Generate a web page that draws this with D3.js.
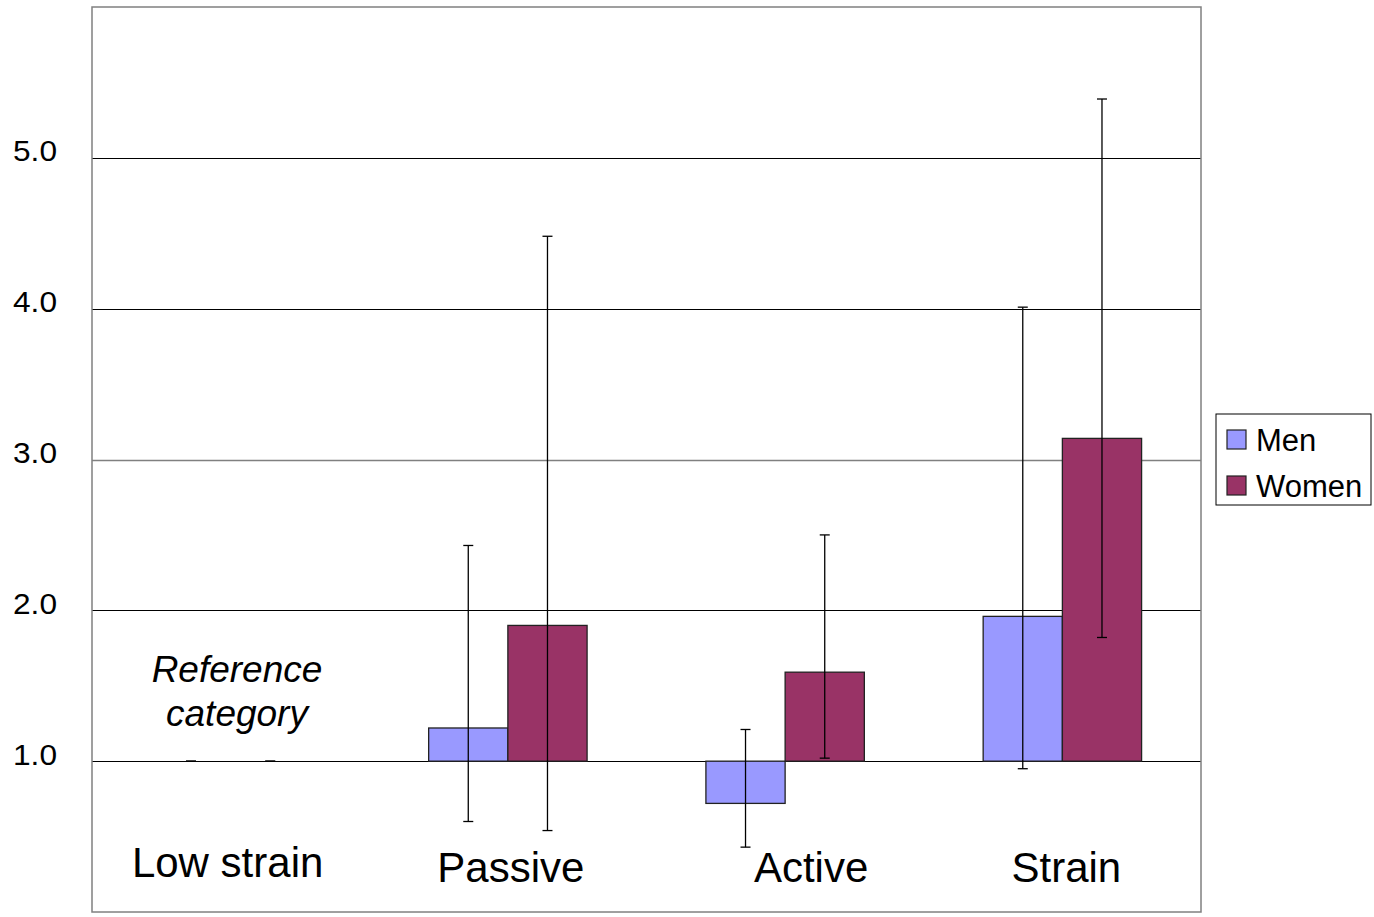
<!DOCTYPE html>
<html>
<head>
<meta charset="utf-8">
<script src="https://cdn.jsdelivr.net/npm/d3@7"></script>
<style>
  html, body { margin: 0; padding: 0; background: #fff; }
  svg { display: block; font-family: Arial, "Liberation Sans", sans-serif; }
</style>
</head>
<body>
<svg id="chart" width="1374" height="917"></svg>
<script>
// ---- data ----
const categories = ["Low strain", "Passive", "Active", "Strain"];
const series = ["Men", "Women"];
const menValues   = [1.00, 1.22, 0.72, 1.96];
const womenValues = [1.00, 1.90, 1.59, 3.14];
const menLower    = [1.00, 0.60, 0.43, 0.95];
const menUpper    = [1.00, 2.43, 1.21, 4.01];
const womenLower  = [1.00, 0.54, 1.02, 1.82];
const womenUpper  = [1.00, 4.48, 2.50, 5.39];
const yTicks = [1, 2, 3, 4, 5];
const referenceNote = ["Reference", "category"];

// ---- layout ----
const plot = { left: 92, right: 1201, top: 7, bottom: 912 };
const colors = { Men: "#9999FF", Women: "#993366" };
const labelDx = [-3, 3, 26, 4];      // hand-placed category labels
const labelBaseline = [877, 882, 882, 882];

const svg = d3.select("#chart");

const x0 = d3.scaleBand().domain(categories).range([plot.left, plot.right]).paddingInner(0).paddingOuter(0);
const x1 = d3.scaleBand().domain(series).range([0, x0.bandwidth()]).paddingInner(0).paddingOuter(0.75);
const y = d3.scaleLinear().domain([0, 6]).range([plot.bottom, plot.top]);

// gridlines
svg.append("g").selectAll("line").data(yTicks).join("line")
  .attr("x1", plot.left).attr("x2", plot.right)
  .attr("y1", d => Math.round(y(d)) + 0.5).attr("y2", d => Math.round(y(d)) + 0.5)
  .attr("stroke", d => d === 3 ? "#808080" : "#000")
  .attr("stroke-width", d => d === 3 ? 1.5 : 1);

// y axis labels via d3 axis
const yAxis = d3.axisLeft(y).tickValues(yTicks).tickFormat(d3.format(".1f")).tickSize(0).tickPadding(0);
const gy = svg.append("g").attr("transform", "translate(57,0)").call(yAxis);
gy.attr("font-size", 29).attr("font-family", "Arial, 'Liberation Sans', sans-serif");
gy.select(".domain").remove();
gy.selectAll("text").attr("font-size", 29).attr("fill", "#000")
  .attr("textLength", 44).attr("lengthAdjust", "spacingAndGlyphs")
  .attr("dy", "0.1em");

// bars
const rows = categories.map((c, i) => ({
  cat: c, i,
  items: [
    { s: "Men", v: menValues[i], lo: menLower[i], hi: menUpper[i] },
    { s: "Women", v: womenValues[i], lo: womenLower[i], hi: womenUpper[i] }
  ]
}));

const groups = svg.append("g").selectAll("g").data(rows).join("g")
  .attr("transform", d => `translate(${x0(d.cat)},0)`);

groups.selectAll("rect").data(d => d.items.filter(e => e.v !== 1)).join("rect")
  .attr("x", d => x1(d.s))
  .attr("width", x1.bandwidth())
  .attr("y", d => Math.min(y(d.v), y(1)))
  .attr("height", d => Math.abs(y(d.v) - y(1)))
  .attr("fill", d => colors[d.s])
  .attr("stroke", "#222")
  .attr("stroke-width", 1.3);

// error bars
const capHalf = 5;
const eb = groups.selectAll("g.err").data(d => d.items).join("g").attr("class", "err");
eb.append("line")
  .attr("x1", d => x1(d.s) + x1.bandwidth() / 2).attr("x2", d => x1(d.s) + x1.bandwidth() / 2)
  .attr("y1", d => y(d.hi)).attr("y2", d => y(d.lo))
  .attr("stroke", "#000").attr("stroke-width", 1.3);
eb.append("line")
  .attr("x1", d => x1(d.s) + x1.bandwidth() / 2 - capHalf).attr("x2", d => x1(d.s) + x1.bandwidth() / 2 + capHalf)
  .attr("y1", d => y(d.hi)).attr("y2", d => y(d.hi))
  .attr("stroke", "#000").attr("stroke-width", 1.3);
eb.append("line")
  .attr("x1", d => x1(d.s) + x1.bandwidth() / 2 - capHalf).attr("x2", d => x1(d.s) + x1.bandwidth() / 2 + capHalf)
  .attr("y1", d => y(d.lo)).attr("y2", d => y(d.lo))
  .attr("stroke", "#000").attr("stroke-width", 1.3);

// plot frame
svg.append("rect")
  .attr("x", plot.left).attr("y", plot.top)
  .attr("width", plot.right - plot.left).attr("height", plot.bottom - plot.top)
  .attr("fill", "none").attr("stroke", "#808080").attr("stroke-width", 1.5);

// category labels
svg.append("g").selectAll("text").data(categories).join("text")
  .attr("x", (d, i) => x0(d) + x0.bandwidth() / 2 + labelDx[i])
  .attr("y", (d, i) => labelBaseline[i])
  .attr("text-anchor", "middle")
  .attr("font-size", 42)
  .attr("fill", "#000")
  .text(d => d);

// reference category note
svg.append("g").selectAll("text").data(referenceNote).join("text")
  .attr("x", 237)
  .attr("y", (d, i) => 682 + i * 44)
  .attr("text-anchor", "middle")
  .attr("font-size", 37)
  .attr("font-style", "italic")
  .attr("fill", "#000")
  .text(d => d);

// legend
const lg = svg.append("g");
lg.append("rect").attr("x", 1216).attr("y", 414).attr("width", 155).attr("height", 91)
  .attr("fill", "#fff").attr("stroke", "#000").attr("stroke-width", 1);
const li = lg.selectAll("g").data(series).join("g")
  .attr("transform", (d, i) => `translate(1227,${430 + i * 46})`);
li.append("rect").attr("width", 19).attr("height", 19)
  .attr("fill", d => colors[d]).attr("stroke", "#222").attr("stroke-width", 1.2);
li.append("text").attr("x", 29).attr("y", 21).attr("font-size", 31).attr("fill", "#000").text(d => d);
</script>
</body>
</html>
